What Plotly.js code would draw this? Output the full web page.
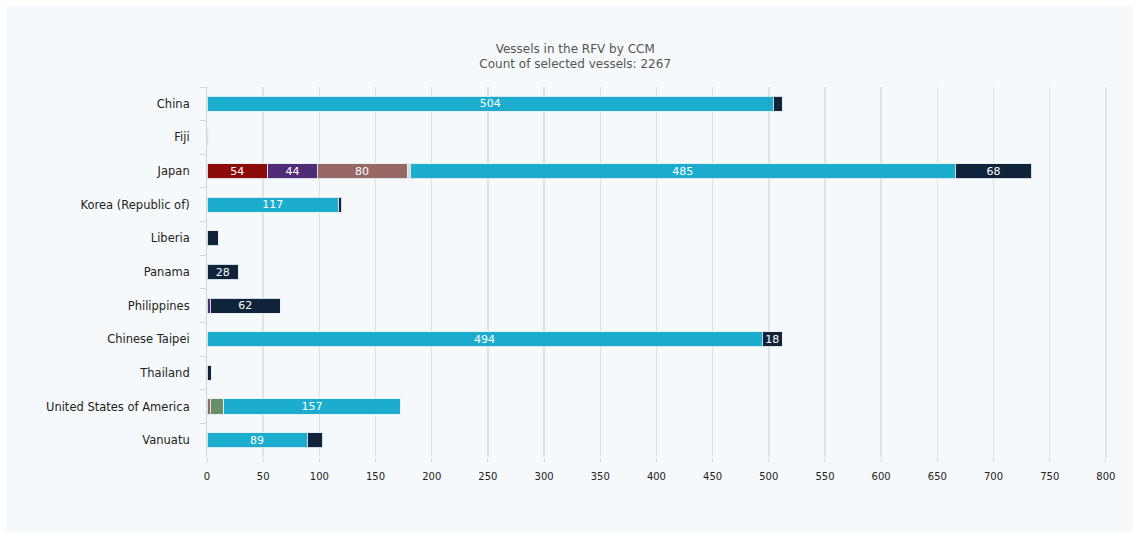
<!DOCTYPE html>
<html>
<head>
<meta charset="utf-8">
<script src="https://cdn.plot.ly/plotly-3.0.1.min.js"></script>
<style>
  html, body { margin: 0; padding: 0; background: #ffffff; }
  #wrap { position: absolute; left: 6px; top: 6px; width: 1127px; height: 526px; background: #f6f9fb; }
  #chart { position: absolute; left: -6px; top: -6px; width: 1139px; height: 538px; }
</style>
</head>
<body>
<div id="wrap"><div id="chart"></div></div>
<script>
const categories = ["China", "Fiji", "Japan", "Korea (Republic of)", "Liberia", "Panama", "Philippines", "Chinese Taipei", "Thailand", "United States of America", "Vanuatu"];

const seriesRed    = [null, null, 54, null, null, null, null, null, null, null, null];
const seriesPurple = [null, null, 44, null, null, null, 3, null, null, null, null];
const seriesMauve  = [null, null, 80, null, null, null, null, null, null, 3, null];
const seriesGrey   = [null, null, 3, null, null, null, null, null, null, null, null];
const seriesGreen  = [null, null, null, null, null, null, null, null, null, 12, null];
const seriesCyan   = [504, 1, 485, 117, null, null, null, 494, null, 157, 89];
const seriesNavy   = [8, null, 68, 3, 10, 28, 62, 18, 4, null, 14];

const xTicks = [0, 50, 100, 150, 200, 250, 300, 350, 400, 450, 500, 550, 600, 650, 700, 750, 800];

const titleText = "Vessels in the RFV by CCM<br>Count of selected vessels: 2267";

const FONT = "DejaVu Sans, Verdana, sans-serif";

const seriesList = [
  { vals: seriesRed,    color: "#8c0a0a" },
  { vals: seriesPurple, color: "#502b78" },
  { vals: seriesMauve,  color: "#986864" },
  { vals: seriesGrey,   color: "#d6dadc" },
  { vals: seriesGreen,  color: "#6a8f68" },
  { vals: seriesCyan,   color: "#1bacce" },
  { vals: seriesNavy,   color: "#0f233b" }
];

const traces = seriesList.map(s => ({
  type: "bar",
  orientation: "h",
  y: categories,
  x: s.vals,
  width: 0.45,
  marker: { color: s.color, line: { color: "rgba(230,238,242,0.9)", width: 1 } },
  text: s.vals.map(v => (v !== null && v >= 18) ? String(v) : ""),
  textposition: "inside",
  insidetextanchor: "middle",
  constraintext: "none",
  textangle: 0,
  insidetextfont: { color: "#ffffff", size: 11, family: FONT },
  hoverinfo: "x+y",
  showlegend: false
}));

const layout = {
  barmode: "stack",
  width: 1139,
  height: 538,
  paper_bgcolor: "rgba(0,0,0,0)",
  plot_bgcolor: "rgba(0,0,0,0)",
  margin: { l: 207, r: 32, t: 87, b: 81 },
  font: { family: FONT, size: 10, color: "#222222" },
  title: {
    text: titleText,
    font: { size: 12, color: "#555555", family: FONT },
    x: 0.505, xanchor: "center",
    y: 0.902, yanchor: "top", yref: "container"
  },
  xaxis: {
    range: [0, 801],
    tickvals: xTicks,
    ticktext: xTicks.map(String),
    showgrid: true,
    gridcolor: "#e0e3e5",
    gridwidth: 1.5,
    zeroline: false,
    showline: false,
    ticks: "outside",
    ticklen: 4,
    tickcolor: "#d5d9dc",
    ticklabelstandoff: 6,
    tickfont: { size: 10, color: "#222222" }
  },
  yaxis: {
    autorange: "reversed",
    type: "category",
    showgrid: false,
    zeroline: false,
    showline: true,
    linecolor: "#cfd5d9",
    linewidth: 1,
    ticks: "outside",
    tickson: "boundaries",
    ticklen: 6,
    tickcolor: "#cfd5d9",
    ticklabelstandoff: 14,
    tickfont: { size: 11.5, color: "#222222" }
  },
  bargap: 0.55
};

Plotly.newPlot("chart", traces, layout, { displayModeBar: false, staticPlot: true });
</script>
</body>
</html>
